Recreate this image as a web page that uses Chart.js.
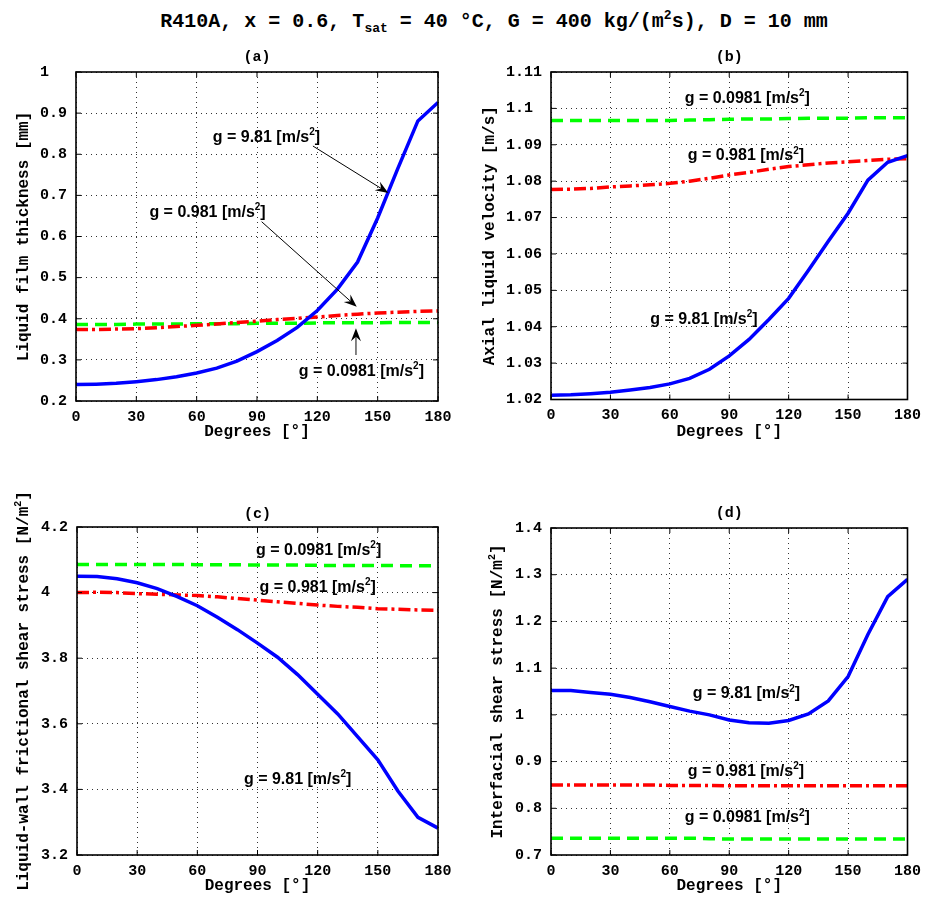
<!DOCTYPE html>
<html lang="en">
<head>
<meta charset="utf-8" />
<title>R410A annular film</title>
<script src="https://cdn.jsdelivr.net/npm/chart.js"></script>
<style>
  body { margin: 0; background: #fff; }
  #wrap { position: relative; width: 928px; height: 898px; overflow: hidden; }
  #wrap canvas { position: absolute; }
  #title {
    position: absolute; left: 0; top: 12px; width: 988px;
    text-align: center; white-space: pre; color: #000;
    font: bold 20px "Liberation Mono", monospace; line-height: 20px;
  }
  #title sub, #title sup { font-size: 13px; line-height: 0; }
</style>
</head>
<body>
<div id="wrap">
  <div id="title">R410A, x = 0.6, T<sub>sat</sub> = 40 °C, G = 400 kg/(m<sup>2</sup>s), D = 10 mm</div>
  <canvas id="chartA" width="464" height="430" style="left:0;top:40px"></canvas>
  <canvas id="chartB" width="464" height="430" style="left:464px;top:40px"></canvas>
  <canvas id="chartC" width="464" height="408" style="left:0;top:490px"></canvas>
  <canvas id="chartD" width="464" height="408" style="left:464px;top:490px"></canvas>
</div>
<script>
// angular position around the tube
const degrees = [0, 10, 20, 30, 40, 50, 60, 70, 80, 90, 100, 110, 120, 130, 140, 150, 160, 170, 180];
const degreeTicks = [0, 30, 60, 90, 120, 150, 180];

// (a) liquid film thickness [mm] for g = 9.81 / 0.981 / 0.0981
const film981 = [0.240, 0.241, 0.243, 0.247, 0.252, 0.259, 0.268, 0.280, 0.297, 0.320, 0.347, 0.379, 0.420, 0.472, 0.538, 0.645, 0.765, 0.881, 0.926];
const film0981 = [0.374, 0.374, 0.375, 0.376, 0.378, 0.381, 0.384, 0.387, 0.391, 0.394, 0.398, 0.401, 0.404, 0.408, 0.411, 0.414, 0.416, 0.418, 0.419];
const film00981 = [0.386, 0.386, 0.386, 0.387, 0.387, 0.387, 0.388, 0.388, 0.388, 0.389, 0.389, 0.389, 0.390, 0.390, 0.390, 0.390, 0.391, 0.391, 0.391];
const filmTicks = [0.2, 0.3, 0.4, 0.5, 0.6, 0.7, 0.8, 0.9, 1];

// (b) axial liquid velocity [m/s]
const vel981 = [1.0212, 1.0213, 1.0216, 1.0220, 1.0226, 1.0233, 1.0243, 1.0258, 1.0283, 1.0320, 1.0365, 1.0420, 1.0478, 1.0555, 1.0635, 1.0712, 1.0803, 1.0852, 1.0870];
const vel0981 = [1.0777, 1.0778, 1.0780, 1.0784, 1.0787, 1.0790, 1.0794, 1.0800, 1.0808, 1.0817, 1.0824, 1.0833, 1.0840, 1.0845, 1.0850, 1.0853, 1.0857, 1.0860, 1.0862];
const vel00981 = [1.0967, 1.0967, 1.0967, 1.0967, 1.0967, 1.0967, 1.0967, 1.0968, 1.0969, 1.0970, 1.0971, 1.0971, 1.0972, 1.0973, 1.0973, 1.0973, 1.0974, 1.0974, 1.0974];
const velTicks = [1.02, 1.03, 1.04, 1.05, 1.06, 1.07, 1.08, 1.09, 1.1, 1.11];

// (c) liquid-wall frictional shear stress [N/m2]
const wall981 = [4.050, 4.049, 4.042, 4.030, 4.012, 3.988, 3.960, 3.925, 3.887, 3.846, 3.803, 3.750, 3.690, 3.630, 3.560, 3.490, 3.395, 3.315, 3.282];
const wall0981 = [4.000, 4.001, 4.000, 3.997, 3.995, 3.993, 3.991, 3.987, 3.982, 3.977, 3.972, 3.967, 3.962, 3.958, 3.955, 3.951, 3.949, 3.947, 3.946];
const wall00981 = [4.086, 4.086, 4.086, 4.086, 4.086, 4.086, 4.085, 4.085, 4.085, 4.084, 4.084, 4.084, 4.083, 4.083, 4.083, 4.083, 4.082, 4.082, 4.082];
const wallTicks = [3.2, 3.4, 3.6, 3.8, 4, 4.2];

// (d) interfacial shear stress [N/m2]
const inter981 = [1.052, 1.052, 1.048, 1.044, 1.037, 1.028, 1.018, 1.008, 1.000, 0.989, 0.983, 0.982, 0.988, 1.002, 1.030, 1.082, 1.172, 1.253, 1.290];
const inter0981 = [0.850, 0.850, 0.850, 0.850, 0.850, 0.850, 0.849, 0.849, 0.849, 0.848, 0.848, 0.848, 0.848, 0.848, 0.848, 0.848, 0.848, 0.848, 0.848];
const inter00981 = [0.736, 0.736, 0.736, 0.736, 0.736, 0.736, 0.736, 0.736, 0.735, 0.734, 0.734, 0.734, 0.734, 0.734, 0.734, 0.734, 0.734, 0.734, 0.734];
const interTicks = [0.7, 0.8, 0.9, 1, 1.1, 1.2, 1.3, 1.4];

const MONO = '"Liberation Mono", "Courier New", monospace';
const SANS = '"Liberation Sans", Arial, sans-serif';

const lineStyles = [
  { borderColor: '#0000ff', borderDash: [] },              // g = 9.81
  { borderColor: '#ff0000', borderDash: [12, 4, 3, 4] },   // g = 0.981
  { borderColor: '#00ff00', borderDash: [12, 7] }          // g = 0.0981
];

const panels = [
  {
    canvas: 'chartA', size: [464, 430], area: [76, 32, 438, 361],
    letter: '(a)', letterY: 17, xTitleY: 392, yTitleX: 23,
    yTitle: ['Liquid film thickness [mm]'],
    series: [film981, film0981, film00981], yTicks: filmTicks,
    notes: [
      { g: '9.81', at: [94.7, 0.843], arrow: [[117.8, 0.820], [155.3, 0.706]] },
      { g: '0.981', at: [65.4, 0.661], arrow: [[92.3, 0.636], [139.6, 0.429]] },
      { g: '0.0981', at: [141.9, 0.275], arrow: [[139.2, 0.312], [139.2, 0.377]], grey: true }
    ]
  },
  {
    canvas: 'chartB', size: [464, 430], area: [87, 32, 449, 359.5],
    letter: '(b)', letterY: 17, xTitleY: 392, yTitleX: 24.5,
    yTitle: ['Axial liquid velocity [m/s]'],
    series: [vel981, vel0981, vel00981], yTicks: velTicks,
    notes: [
      { g: '0.0981', at: [99.1, 1.1030] },
      { g: '0.981', at: [98.4, 1.0872] },
      { g: '9.81', at: [77.2, 1.0423] }
    ]
  },
  {
    canvas: 'chartC', size: [464, 408], area: [77, 37, 438, 365],
    letter: '(c)', letterY: 24, xTitleY: 396, yTitleX: 23,
    yTitle: ['Liquid-wall frictional shear stress [N/m', '2', ']'],
    series: [wall981, wall0981, wall00981], yTicks: wallTicks,
    notes: [
      { g: '0.0981', at: [120.5, 4.131] },
      { g: '0.981', at: [120.0, 4.019] },
      { g: '9.81', at: [110.0, 3.433] }
    ]
  },
  {
    canvas: 'chartD', size: [464, 408], area: [87, 38, 449, 365],
    letter: '(d)', letterY: 23.5, xTitleY: 396, yTitleX: 33,
    yTitle: ['Interfacial shear stress [N/m', '2', ']'],
    series: [inter981, inter0981, inter00981], yTicks: interTicks,
    notes: [
      { g: '9.81', at: [98.7, 1.047] },
      { g: '0.981', at: [98.4, 0.8815] },
      { g: '0.0981', at: [99.1, 0.7814] }
    ]
  }
];

// text with superscripts: odd entries of parts are raised and smaller
function drawParts(ctx, parts, x, y, size, family) {
  const supSize = Math.round(size * 0.65);
  const widths = parts.map((t, i) => {
    ctx.font = `bold ${i % 2 ? supSize : size}px ${family}`;
    return ctx.measureText(t).width;
  });
  let cx = x - widths.reduce((a, b) => a + b, 0) / 2;
  ctx.textAlign = 'left';
  ctx.textBaseline = 'alphabetic';
  parts.forEach((t, i) => {
    ctx.font = `bold ${i % 2 ? supSize : size}px ${family}`;
    ctx.fillText(t, cx, y - (i % 2 ? size * 0.42 : 0));
    cx += widths[i];
  });
}

function drawArrow(ctx, x1, y1, x2, y2, shaft) {
  const ang = Math.atan2(y2 - y1, x2 - x1);
  const len = 13, half = 5;
  const ux = Math.cos(ang), uy = Math.sin(ang);
  ctx.save();
  ctx.strokeStyle = shaft;
  ctx.lineWidth = shaft === '#000' ? 1 : 1.6;
  ctx.beginPath();
  ctx.moveTo(x1, y1);
  ctx.lineTo(x2 - ux * 8, y2 - uy * 8);
  ctx.stroke();
  ctx.fillStyle = '#000';
  ctx.beginPath();
  ctx.moveTo(x2, y2);
  ctx.lineTo(x2 - ux * len - uy * half, y2 - uy * len + ux * half);
  ctx.lineTo(x2 - ux * len * 0.65, y2 - uy * len * 0.65);
  ctx.lineTo(x2 - ux * len + uy * half, y2 - uy * len - ux * half);
  ctx.closePath();
  ctx.fill();
  ctx.restore();
}

// box, inward ticks, titles and g labels
function decorations(p) {
  return {
    id: 'decor',
    afterDraw(chart) {
      const ctx = chart.ctx;
      const { left, right, top, bottom } = chart.chartArea;
      const xs = chart.scales.x, ys = chart.scales.y;
      ctx.save();
      ctx.strokeStyle = '#000';
      ctx.lineWidth = 1;
      ctx.beginPath();
      xs.ticks.forEach(t => {
        const px = xs.getPixelForValue(t.value);
        ctx.moveTo(px, bottom); ctx.lineTo(px, bottom - 5);
        ctx.moveTo(px, top); ctx.lineTo(px, top + 5);
      });
      ys.ticks.forEach(t => {
        const py = ys.getPixelForValue(t.value);
        ctx.moveTo(left, py); ctx.lineTo(left + 5, py);
        ctx.moveTo(right, py); ctx.lineTo(right - 5, py);
      });
      ctx.stroke();
      ctx.lineWidth = 1.6;
      ctx.strokeRect(left, top, right - left, bottom - top);

      ctx.fillStyle = '#000';
      const midX = (left + right) / 2, midY = (top + bottom) / 2;
      ctx.font = `bold 15px ${MONO}`;
      ctx.textAlign = 'center';
      ctx.textBaseline = 'middle';
      ctx.fillText(p.letter, midX, p.letterY);
      ctx.font = `bold 16px ${MONO}`;
      ctx.fillText('Degrees [°]', midX, p.xTitleY);

      ctx.save();
      ctx.translate(p.yTitleX, midY);
      ctx.rotate(-Math.PI / 2);
      drawParts(ctx, p.yTitle, 0, 5, 16, MONO);
      ctx.restore();

      p.notes.forEach(n => {
        if (n.arrow) {
          const [[a, b], [c, d]] = n.arrow;
          drawArrow(ctx, xs.getPixelForValue(a), ys.getPixelForValue(b),
            xs.getPixelForValue(c), ys.getPixelForValue(d), n.grey ? '#666' : '#000');
        }
        ctx.fillStyle = '#000';
        drawParts(ctx, ['g = ' + n.g + ' [m/s', '2', ']'],
          xs.getPixelForValue(n.at[0]), ys.getPixelForValue(n.at[1]) + 5.5, 16, SANS);
      });
      ctx.restore();
    }
  };
}

function yLabel(ticks) {
  const width = Math.max(...ticks.map(v => String(v).length));
  return v => String(+v.toFixed(4)).padEnd(width, ' ');
}

panels.forEach(p => {
  const [w, h] = p.size;
  const [l, t, r, b] = p.area;
  const yTicks = p.yTicks;
  new Chart(document.getElementById(p.canvas), {
    type: 'line',
    data: {
      datasets: p.series.map((vals, i) => ({
        data: degrees.map((d, k) => ({ x: d, y: vals[k] })),
        borderColor: lineStyles[i].borderColor,
        borderDash: lineStyles[i].borderDash,
        borderWidth: 3.5,
        pointRadius: 0,
        tension: 0,
        fill: false
      }))
    },
    options: {
      responsive: false,
      devicePixelRatio: 1,
      animation: false,
      layout: { padding: { left: 0, top: t, right: w - r, bottom: 0 } },
      plugins: { legend: { display: false }, tooltip: { enabled: false } },
      scales: {
        x: {
          type: 'linear', min: 0, max: 180,
          afterBuildTicks: s => { s.ticks = degreeTicks.map(v => ({ value: v })); },
          afterFit: s => { s.height = h - b; },
          ticks: {
            color: '#000', padding: 7, maxRotation: 0, autoSkip: false,
            font: { family: MONO, size: 15, weight: 'bold' },
            callback: v => String(v)
          },
          grid: { color: '#333', lineWidth: 1, drawTicks: false },
          border: { display: false, dash: [1, 4] }
        },
        y: {
          type: 'linear', min: yTicks[0], max: yTicks[yTicks.length - 1],
          afterBuildTicks: s => { s.ticks = yTicks.map(v => ({ value: v })); },
          afterFit: s => { s.width = l; },
          ticks: {
            color: '#000', padding: 9, autoSkip: false,
            font: { family: MONO, size: 15, weight: 'bold' },
            callback: yLabel(yTicks)
          },
          grid: { color: '#333', lineWidth: 1, drawTicks: false },
          border: { display: false, dash: [1, 4] }
        }
      }
    },
    plugins: [decorations(p)]
  });
});
</script>
</body>
</html>
